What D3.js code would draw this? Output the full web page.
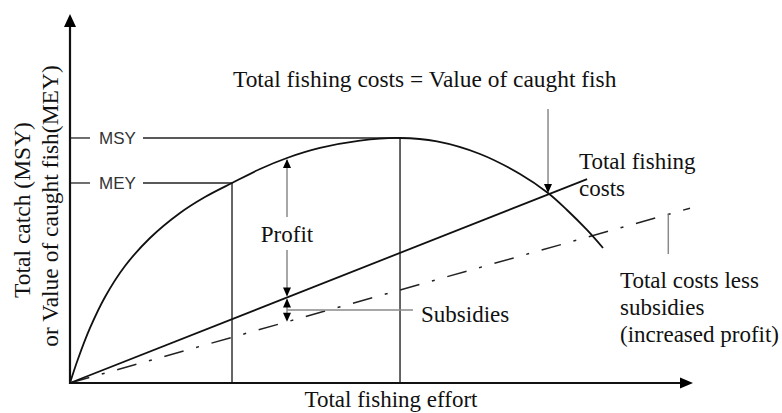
<!DOCTYPE html>
<html>
<head>
<meta charset="utf-8">
<script src="https://cdn.jsdelivr.net/npm/d3@7"></script>
<style>
  html, body { margin: 0; padding: 0; background: #fff; }
  svg { display: block; }
  .serif { font-family: "Liberation Serif", "Times New Roman", serif; fill: #111; }
  .sans { font-family: "Liberation Sans", Arial, sans-serif; fill: #333; }
</style>
</head>
<body>
<script>
// ---- data (abstract units: effort 0-100, catch/value 0-100) ----
const effort = [0, 1.29, 3.23, 5.65, 8.87, 12.9, 17.74, 21.77, 26.13, 30.65, 35.0, 40.32, 46.77, 53.23, 59.19, 66.13, 72.58, 77.1, 80.16, 83.39, 85.97];
const catchValue = [0, 6.52, 14.95, 23.37, 31.79, 39.4, 46.2, 50.54, 54.35, 58.15, 61.14, 63.86, 65.87, 66.58, 65.65, 62.23, 56.79, 51.63, 47.01, 41.58, 36.68];
const costEffort = [0, 83.4];
const costValue = [0, 55.4];
const subsidyEffort = [0, 100];
const subsidyValue = [0, 47.5];
const levelLabels = ["MSY", "MEY"];
const levelValues = [66.58, 54.35];
const levelEffort = [53.23, 26.13];
const profitEffort = 35.0;
const breakEvenEffort = 77.1;
const breakEvenValue = 51.63;
const pointerEffort = 96.5;

const W = 782, H = 413;
const svg = d3.select("body").append("svg").attr("width", W).attr("height", H);

const x = d3.scaleLinear().domain([0, 100]).range([70, 690]);
const y = d3.scaleLinear().domain([0, 100]).range([383, 15]);

const costAt = e => costValue[1] / costEffort[1] * e;
const subAt = e => subsidyValue[1] / subsidyEffort[1] * e;

const gray = "#8a8a8a";

// MSY / MEY reference lines and verticals
levelLabels.forEach((lab, i) => {
  const yy = y(levelValues[i]);
  svg.append("line").attr("x1", x(0)).attr("x2", 90).attr("y1", yy).attr("y2", yy)
    .attr("stroke", "#222").attr("stroke-width", 1.3);
  svg.append("line").attr("x1", 143).attr("x2", x(levelEffort[i])).attr("y1", yy).attr("y2", yy)
    .attr("stroke", "#222").attr("stroke-width", 1.3);
  svg.append("text").attr("class", "sans").attr("x", 99).attr("y", yy + 6)
    .attr("font-size", 17).text(lab);
  svg.append("line").attr("x1", x(levelEffort[i])).attr("x2", x(levelEffort[i]))
    .attr("y1", yy).attr("y2", y(0)).attr("stroke", "#333").attr("stroke-width", 1.5);
});

// dash-dot line (costs less subsidies)
svg.append("path")
  .datum(subsidyEffort.map((e, i) => [e, subsidyValue[i]]))
  .attr("d", d3.line().x(d => x(d[0])).y(d => y(d[1])))
  .attr("fill", "none").attr("stroke", "#222").attr("stroke-width", 1.5)
  .attr("stroke-dasharray", "20,13,3,13");

// total fishing costs line
svg.append("path")
  .datum(costEffort.map((e, i) => [e, costValue[i]]))
  .attr("d", d3.line().x(d => x(d[0])).y(d => y(d[1])))
  .attr("fill", "none").attr("stroke", "#111").attr("stroke-width", 1.8);

// yield / value curve
svg.append("path")
  .datum(effort.map((e, i) => [e, catchValue[i]]))
  .attr("d", d3.line().x(d => x(d[0])).y(d => y(d[1])).curve(d3.curveCatmullRom))
  .attr("fill", "none").attr("stroke", "#111").attr("stroke-width", 1.8);

// axes
svg.append("line").attr("x1", x(0)).attr("x2", x(0)).attr("y1", y(0) + 1).attr("y2", 24)
  .attr("stroke", "#111").attr("stroke-width", 2.2);
svg.append("path").attr("d", `M${x(0)},14 L${x(0) - 6},27 L${x(0) + 6},27 Z`).attr("fill", "#000");
svg.append("line").attr("x1", x(0) - 1).attr("x2", 682).attr("y1", y(0)).attr("y2", y(0))
  .attr("stroke", "#111").attr("stroke-width", 2.2);
svg.append("path").attr("d", `M693,${y(0)} L680,${y(0) - 5.5} L680,${y(0) + 5.5} Z`).attr("fill", "#000");

// small arrowheads
function head(px, py, dir) { // dir: 1 = pointing down, -1 = pointing up
  svg.append("path")
    .attr("d", `M${px},${py} L${px - 4},${py - dir * 9} L${px + 4},${py - dir * 9} Z`)
    .attr("fill", "#000");
}

// Profit arrow
const px = x(profitEffort);
const topY = y(catchValue[effort.indexOf(profitEffort)]);
const costY = y(costAt(profitEffort));
const subY = y(subAt(profitEffort));
svg.append("line").attr("x1", px).attr("x2", px).attr("y1", topY + 2).attr("y2", 217)
  .attr("stroke", gray).attr("stroke-width", 1.5);
svg.append("line").attr("x1", px).attr("x2", px).attr("y1", 250).attr("y2", costY - 2)
  .attr("stroke", gray).attr("stroke-width", 1.5);
head(px, topY + 1, -1);
head(px, costY - 1, 1);
// subsidies arrow
svg.append("line").attr("x1", px).attr("x2", px).attr("y1", costY + 2).attr("y2", subY - 2)
  .attr("stroke", gray).attr("stroke-width", 1.5);
head(px, costY + 1, -1);
head(px, subY, 1);
svg.append("line").attr("x1", px).attr("x2", 413).attr("y1", 310).attr("y2", 310)
  .attr("stroke", gray).attr("stroke-width", 1.5);

svg.append("text").attr("class", "serif").attr("x", px).attr("y", 242)
  .attr("text-anchor", "middle").attr("font-size", 23).text("Profit");
svg.append("text").attr("class", "serif").attr("x", 421).attr("y", 322)
  .attr("font-size", 23).text("Subsidies");

// break-even annotation
const bx = x(breakEvenEffort), by = y(breakEvenValue);
svg.append("line").attr("x1", bx).attr("x2", bx).attr("y1", 109).attr("y2", by - 4)
  .attr("stroke", gray).attr("stroke-width", 1.5);
head(bx, by, 1);
svg.append("text").attr("class", "serif").attr("x", 233).attr("y", 87)
  .attr("font-size", 23.4).text("Total fishing costs = Value of caught fish");

// right labels
svg.append("text").attr("class", "serif").attr("x", 579).attr("y", 169)
  .attr("font-size", 23).text("Total fishing");
svg.append("text").attr("class", "serif").attr("x", 579).attr("y", 196)
  .attr("font-size", 23).text("costs");

const rx = x(pointerEffort);
svg.append("line").attr("x1", rx).attr("x2", rx).attr("y1", y(subAt(pointerEffort))).attr("y2", 254)
  .attr("stroke", gray).attr("stroke-width", 1.5);
["Total costs less", "subsidies", "(increased profit)"].forEach((t, i) => {
  svg.append("text").attr("class", "serif").attr("x", 620).attr("y", 288 + i * 27)
    .attr("font-size", 23).text(t);
});

// axis titles
svg.append("text").attr("class", "serif").attr("x", 391).attr("y", 407)
  .attr("text-anchor", "middle").attr("font-size", 23).text("Total fishing effort");
svg.append("text").attr("class", "serif")
  .attr("transform", "translate(30,210) rotate(-90)")
  .attr("text-anchor", "middle").attr("font-size", 23.5).text("Total catch  (MSY)");
svg.append("text").attr("class", "serif")
  .attr("transform", "translate(58,206) rotate(-90)")
  .attr("text-anchor", "middle").attr("font-size", 23.5).text("or Value of caught fish(MEY)");
</script>
</body>
</html>
